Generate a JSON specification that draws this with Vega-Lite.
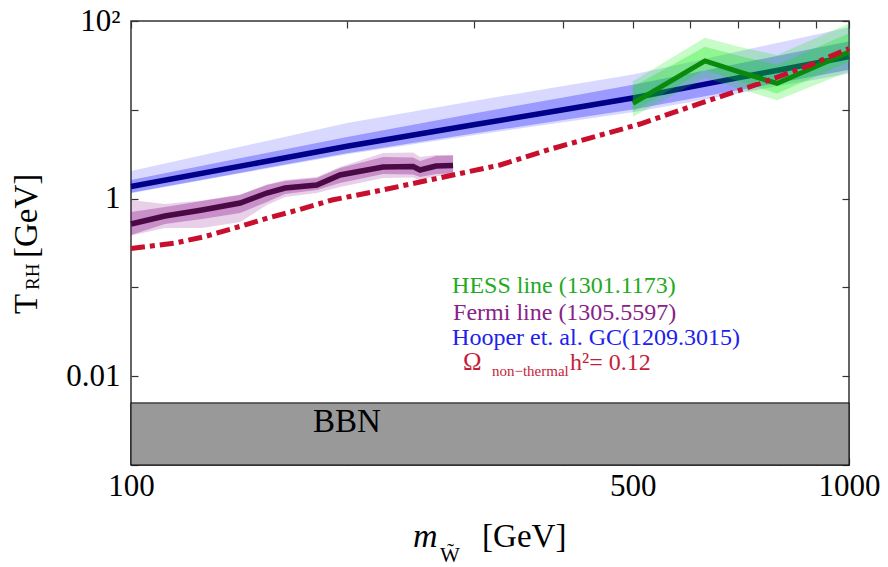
{
  "$schema": "https://vega.github.io/schema/vega-lite/v6.json",
  "width": 718,
  "height": 444,
  "autosize": {"type": "none"},
  "padding": {"left": 131, "top": 21, "right": 39, "bottom": 102},
  "background": "white",
  "config": {
    "view": {"stroke": "#333333", "strokeWidth": 1.5},
    "font": "Liberation Serif",
    "axis": {"grid": false, "domain": false}
  },
  "datasets": {
    "bbn": [{"m": 100, "m2": 1000, "lo": 0.001, "hi": 0.005}],
    "blue": [
      {"m": 100, "T": 1.37, "ohi": 2.05, "ihi": 1.62, "ilo": 1.164, "olo": 1.15},
      {"m": 150, "T": 2.52, "ohi": 4.23, "ihi": 3.12, "ilo": 2.12, "olo": 2.08},
      {"m": 200, "T": 3.88, "ohi": 7.08, "ihi": 4.95, "ilo": 3.24, "olo": 3.16},
      {"m": 300, "T": 6.79, "ohi": 12.6, "ihi": 9.08, "ilo": 5.4, "olo": 5.18},
      {"m": 400, "T": 10.0, "ohi": 18.5, "ihi": 13.8, "ilo": 7.66, "olo": 7.24},
      {"m": 500, "T": 13.6, "ohi": 25.0, "ihi": 19.2, "ilo": 10.07, "olo": 9.4},
      {"m": 600, "T": 18.0, "ohi": 34.4, "ihi": 25.7, "ilo": 13.2, "olo": 12.2},
      {"m": 700, "T": 22.9, "ohi": 45.3, "ihi": 33.0, "ilo": 16.6, "olo": 15.3},
      {"m": 800, "T": 28.1, "ohi": 57.3, "ihi": 41.0, "ilo": 20.2, "olo": 18.6},
      {"m": 900, "T": 33.7, "ohi": 70.5, "ihi": 49.5, "ilo": 24.0, "olo": 22.0},
      {"m": 1000, "T": 39.8, "ohi": 85.1, "ihi": 58.9, "ilo": 28.2, "olo": 25.7}
    ],
    "purple": [
      {"m": 100, "T": 0.518, "ohi": 0.964, "ihi": 0.706, "ilo": 0.389, "olo": 0.385},
      {"m": 111.5, "T": 0.637, "ohi": 0.869, "ihi": 0.804, "ilo": 0.518, "olo": 0.467},
      {"m": 125.6, "T": 0.745, "ohi": 0.95, "ihi": 0.94, "ilo": 0.59, "olo": 0.467},
      {"m": 141.9, "T": 0.891, "ohi": 1.11, "ihi": 1.096, "ilo": 0.687, "olo": 0.545},
      {"m": 154.6, "T": 1.156, "ohi": 1.44, "ihi": 1.422, "ilo": 0.916, "olo": 0.847},
      {"m": 163.9, "T": 1.316, "ohi": 1.618, "ihi": 1.578, "ilo": 1.125, "olo": 1.042},
      {"m": 181.5, "T": 1.42, "ohi": 1.75, "ihi": 1.706, "ilo": 1.25, "olo": 1.156},
      {"m": 195.5, "T": 1.845, "ohi": 2.27, "ihi": 2.213, "ilo": 1.5, "olo": 1.352},
      {"m": 224.4, "T": 2.27, "ohi": 3.266, "ihi": 2.944, "ilo": 1.892, "olo": 1.706},
      {"m": 247.1, "T": 2.3, "ohi": 3.307, "ihi": 2.901, "ilo": 1.868, "olo": 1.728},
      {"m": 252.7, "T": 2.1, "ohi": 2.938, "ihi": 2.649, "ilo": 1.75, "olo": 1.618},
      {"m": 265.9, "T": 2.33, "ohi": 3.097, "ihi": 3.02, "ilo": 1.892, "olo": 1.795},
      {"m": 280.9, "T": 2.36, "ohi": 3.1, "ihi": 3.062, "ilo": 1.919, "olo": 1.82}
    ],
    "green": [
      {"m": 500, "T": 11.8, "ohi": 20.9, "ihi": 18.2, "ilo": 9.57, "olo": 8.34},
      {"m": 630.1, "T": 35.5, "ohi": 64.6, "ihi": 51.3, "ilo": 28.2, "olo": 22.9},
      {"m": 704.7, "T": 26.6, "ohi": 50.8, "ihi": 40.4, "ilo": 20.7, "olo": 17.2},
      {"m": 794.1, "T": 19.8, "ohi": 41.3, "ihi": 32.1, "ilo": 15.3, "olo": 12.8},
      {"m": 1000, "T": 44.8, "ohi": 93.5, "ihi": 72.6, "ilo": 34.8, "olo": 27.0}
    ],
    "red": [
      {"m": 100, "T": 0.274},
      {"m": 115.2, "T": 0.316},
      {"m": 126.8, "T": 0.374},
      {"m": 140.9, "T": 0.479},
      {"m": 155.2, "T": 0.605},
      {"m": 170.9, "T": 0.745},
      {"m": 190.5, "T": 0.964},
      {"m": 218.7, "T": 1.2},
      {"m": 280.9, "T": 1.845},
      {"m": 326.6, "T": 2.39},
      {"m": 379.7, "T": 3.52},
      {"m": 511.6, "T": 6.92},
      {"m": 620.2, "T": 11.8},
      {"m": 751.6, "T": 19.8},
      {"m": 882.5, "T": 31.9},
      {"m": 1000, "T": 49.0}
    ],
    "txt": [
      {"m": 280.0, "T": 0.0865, "label": "HESS line (1301.1173)", "color": "#22aa22", "size": 24},
      {"m": 280.9, "T": 0.043, "label": "Fermi line (1305.5597)", "color": "#882288", "size": 24},
      {"m": 280.0, "T": 0.02246, "label": "Hooper et. al. GC(1209.3015)", "color": "#2020ee", "size": 24},
      {"m": 290.0, "T": 0.01175, "label": "Ω", "color": "#c41e3a", "size": 25},
      {"m": 318.2, "T": 0.01005, "label": "non−thermal", "color": "#c41e3a", "size": 15},
      {"m": 408.7, "T": 0.01175, "label": "h²= 0.12", "color": "#c41e3a", "size": 24},
      {"m": 179.3, "T": 0.002355, "label": "BBN", "color": "#000000", "size": 33},
      {"m": 269.4, "T": 0.0000809, "label": "W̃", "color": "#000000", "size": 21},
      {"m": 308.3, "T": 0.0001193, "label": "[GeV]", "color": "#000000", "size": 33}
    ],
    "ital": [
      {"m": 247.1, "T": 0.0001193, "label": "m", "color": "#000000", "size": 34}
    ],
    "rot": [
      {"m": 73.96, "T": 0.0502, "label": "T", "color": "#000000", "size": 33},
      {"m": 74.43, "T": 0.0935, "label": "RH", "color": "#000000", "size": 19},
      {"m": 73.96, "T": 0.2143, "label": "[GeV]", "color": "#000000", "size": 33}
    ]
  },
  "resolve": {"axis": {"x": "independent", "y": "independent"}},
  "layer": [
    {
      "data": {"name": "bbn"},
      "mark": {"type": "rect", "fill": "#999999", "stroke": "#000000", "strokeWidth": 1},
      "encoding": {
        "x": {"field": "m", "type": "quantitative", "scale": {"type": "log", "domain": [100, 1000], "nice": false},
          "axis": {"orient": "bottom", "title": null, "values": [100, 200, 300, 400, 500, 600, 700, 800, 900, 1000],
            "labelExpr": "datum.value==100?'100':datum.value==500?'500':datum.value==1000?'1000':''",
            "tickSize": -7, "tickColor": "#333333", "tickWidth": 1.2, "labelFont": "Liberation Serif", "labelFontSize": 31,
            "labelColor": "#000000", "labelPadding": 13, "labelOverlap": false, "labelFlush": false, "labelBound": false}},
        "x2": {"field": "m2"},
        "y": {"field": "lo", "type": "quantitative", "scale": {"type": "log", "domain": [0.001, 100], "nice": false},
          "axis": {"orient": "left", "title": null, "values": [0.001, 0.01, 0.1, 1, 10, 100],
            "labelExpr": "datum.value==100?'10²':datum.value==1?'1':datum.value==0.01?'0.01':''",
            "tickSize": -7, "tickColor": "#333333", "tickWidth": 1.2, "labelFont": "Liberation Serif", "labelFontSize": 31,
            "labelColor": "#000000", "labelPadding": 18, "labelOverlap": false, "labelFlush": false, "labelBound": false}},
        "y2": {"field": "hi"}
      }
    },
    {
      "data": {"name": "blue"},
      "mark": {"type": "area", "color": "#0000ff", "opacity": 0.15},
      "encoding": {
        "x": {"field": "m", "type": "quantitative", "scale": {"type": "log", "domain": [100, 1000], "nice": false}, "axis": null},
        "y": {"field": "olo", "type": "quantitative", "scale": {"type": "log", "domain": [0.001, 100], "nice": false}, "axis": null},
        "y2": {"field": "ohi"}
      }
    },
    {
      "data": {"name": "blue"},
      "mark": {"type": "area", "color": "#0000ff", "opacity": 0.29},
      "encoding": {
        "x": {"field": "m", "type": "quantitative", "scale": {"type": "log", "domain": [100, 1000], "nice": false}, "axis": null},
        "y": {"field": "ilo", "type": "quantitative", "scale": {"type": "log", "domain": [0.001, 100], "nice": false}, "axis": null},
        "y2": {"field": "ihi"}
      }
    },
    {
      "data": {"name": "purple"},
      "mark": {"type": "area", "color": "#800080", "opacity": 0.184},
      "encoding": {
        "x": {"field": "m", "type": "quantitative", "scale": {"type": "log", "domain": [100, 1000], "nice": false}, "axis": null},
        "y": {"field": "olo", "type": "quantitative", "scale": {"type": "log", "domain": [0.001, 100], "nice": false}, "axis": null},
        "y2": {"field": "ohi"}
      }
    },
    {
      "data": {"name": "purple"},
      "mark": {"type": "area", "color": "#800080", "opacity": 0.31},
      "encoding": {
        "x": {"field": "m", "type": "quantitative", "scale": {"type": "log", "domain": [100, 1000], "nice": false}, "axis": null},
        "y": {"field": "ilo", "type": "quantitative", "scale": {"type": "log", "domain": [0.001, 100], "nice": false}, "axis": null},
        "y2": {"field": "ihi"}
      }
    },
    {
      "data": {"name": "blue"},
      "mark": {"type": "line", "color": "#000088", "strokeWidth": 5.5},
      "encoding": {
        "x": {"field": "m", "type": "quantitative", "scale": {"type": "log", "domain": [100, 1000], "nice": false}, "axis": null},
        "y": {"field": "T", "type": "quantitative", "scale": {"type": "log", "domain": [0.001, 100], "nice": false}, "axis": null}
      }
    },
    {
      "data": {"name": "purple"},
      "mark": {"type": "line", "color": "#4a0a45", "strokeWidth": 5.5},
      "encoding": {
        "x": {"field": "m", "type": "quantitative", "scale": {"type": "log", "domain": [100, 1000], "nice": false}, "axis": null},
        "y": {"field": "T", "type": "quantitative", "scale": {"type": "log", "domain": [0.001, 100], "nice": false}, "axis": null}
      }
    },
    {
      "data": {"name": "green"},
      "mark": {"type": "area", "color": "#00ee00", "opacity": 0.22},
      "encoding": {
        "x": {"field": "m", "type": "quantitative", "scale": {"type": "log", "domain": [100, 1000], "nice": false}, "axis": null},
        "y": {"field": "olo", "type": "quantitative", "scale": {"type": "log", "domain": [0.001, 100], "nice": false}, "axis": null},
        "y2": {"field": "ohi"}
      }
    },
    {
      "data": {"name": "green"},
      "mark": {"type": "area", "color": "#00ee00", "opacity": 0.28},
      "encoding": {
        "x": {"field": "m", "type": "quantitative", "scale": {"type": "log", "domain": [100, 1000], "nice": false}, "axis": null},
        "y": {"field": "ilo", "type": "quantitative", "scale": {"type": "log", "domain": [0.001, 100], "nice": false}, "axis": null},
        "y2": {"field": "ihi"}
      }
    },
    {
      "data": {"name": "green"},
      "mark": {"type": "line", "color": "#0a8a0a", "strokeWidth": 5},
      "encoding": {
        "x": {"field": "m", "type": "quantitative", "scale": {"type": "log", "domain": [100, 1000], "nice": false}, "axis": null},
        "y": {"field": "T", "type": "quantitative", "scale": {"type": "log", "domain": [0.001, 100], "nice": false}, "axis": null}
      }
    },
    {
      "data": {"name": "red"},
      "mark": {"type": "line", "color": "#c8102e", "strokeWidth": 5, "strokeDash": [14, 5, 5, 5], "strokeCap": "butt"},
      "encoding": {
        "x": {"field": "m", "type": "quantitative", "scale": {"type": "log", "domain": [100, 1000], "nice": false},
          "axis": {"orient": "top", "title": null, "values": [100, 200, 300, 400, 500, 600, 700, 800, 900, 1000],
            "labels": false, "tickSize": -7, "tickColor": "#333333", "tickWidth": 1.2}},
        "y": {"field": "T", "type": "quantitative", "scale": {"type": "log", "domain": [0.001, 100], "nice": false},
          "axis": {"orient": "right", "title": null, "values": [0.001, 0.01, 0.1, 1, 10, 100],
            "labels": false, "tickSize": -7, "tickColor": "#333333", "tickWidth": 1.2}}
      }
    },
    {
      "data": {"name": "txt"},
      "mark": {"type": "text", "align": "left", "baseline": "alphabetic", "font": "Liberation Serif"},
      "encoding": {
        "x": {"field": "m", "type": "quantitative", "scale": {"type": "log", "domain": [100, 1000], "nice": false}, "axis": null},
        "y": {"field": "T", "type": "quantitative", "scale": {"type": "log", "domain": [0.001, 100], "nice": false}, "axis": null},
        "text": {"field": "label"},
        "color": {"field": "color", "type": "nominal", "scale": null},
        "size": {"field": "size", "type": "quantitative", "scale": null}
      }
    },
    {
      "data": {"name": "ital"},
      "mark": {"type": "text", "align": "left", "baseline": "alphabetic", "font": "Liberation Serif", "fontStyle": "italic"},
      "encoding": {
        "x": {"field": "m", "type": "quantitative", "scale": {"type": "log", "domain": [100, 1000], "nice": false}, "axis": null},
        "y": {"field": "T", "type": "quantitative", "scale": {"type": "log", "domain": [0.001, 100], "nice": false}, "axis": null},
        "text": {"field": "label"},
        "color": {"field": "color", "type": "nominal", "scale": null},
        "size": {"field": "size", "type": "quantitative", "scale": null}
      }
    },
    {
      "data": {"name": "rot"},
      "mark": {"type": "text", "align": "left", "baseline": "alphabetic", "font": "Liberation Serif", "angle": 270},
      "encoding": {
        "x": {"field": "m", "type": "quantitative", "scale": {"type": "log", "domain": [100, 1000], "nice": false}, "axis": null},
        "y": {"field": "T", "type": "quantitative", "scale": {"type": "log", "domain": [0.001, 100], "nice": false}, "axis": null},
        "text": {"field": "label"},
        "color": {"field": "color", "type": "nominal", "scale": null},
        "size": {"field": "size", "type": "quantitative", "scale": null}
      }
    }
  ]
}
